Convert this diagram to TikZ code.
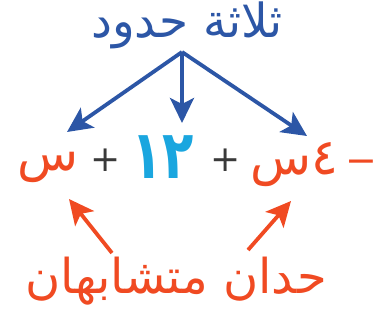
\documentclass[tikz,border=0pt]{standalone}
\usepackage{fontspec}
\usepackage{graphicx}
\TeXXeTstate=1
\newfontfamily\arabicfont[Script=Arabic]{DejaVu Sans}
\usetikzlibrary{arrows.meta}
\definecolor{tblue}{HTML}{2C56A6}
\definecolor{tcyan}{HTML}{1AA6DF}
\definecolor{tred}{HTML}{F04A22}
\definecolor{tgray}{HTML}{3A3A3A}
\tikzset{
  lbl/.style={inner sep=0pt},
  barrow/.style={draw=tblue, line width=3.8pt, -{Stealth[length=25pt,width=24pt,inset=6pt]}},
  rarrow/.style={draw=tred, line width=3.8pt, -{Stealth[length=25pt,width=24pt,inset=6pt]}},
}
\begin{document}
\begin{tikzpicture}[x=1pt,y=-1pt]
\useasboundingbox (0,0) rectangle (379,323);
\node[lbl, text=tblue, font=\arabicfont\fontsize{47}{50}\selectfont] (top) at (187,25) {\beginR ثلاثة حدود\endR};
\node[lbl, text=tred, font=\arabicfont\fontsize{50}{54}\selectfont] (t1) at (48,167) {\beginR س\endR};
\node[lbl, text=tgray, font=\arabicfont\fontsize{36}{40}\selectfont] (p1) at (106,160) {+};
\node[lbl, text=tcyan, font=\arabicfont\bfseries\fontsize{54}{58}\selectfont] (n12) at (163,157) {\scalebox{0.95}[1.25]{\beginR ١٢\endR}};
\node[lbl, text=tgray, font=\arabicfont\fontsize{36}{40}\selectfont] (p2) at (226,160) {+};
\node[lbl, text=tred, font=\arabicfont\fontsize{50}{54}\selectfont] (t3) at (294,165) {\beginR ٤س\endR};
\node[lbl, text=tred, font=\arabicfont\fontsize{38}{42}\selectfont] (mn) at (361,167) {−};
\node[lbl, text=tred, font=\arabicfont\fontsize{48}{52}\selectfont] (bot) at (176,281) {\beginR حدان متشابهان\endR};
\coordinate (o) at (182,52);
\coordinate (a1) at (67,132);
\coordinate (a2) at (182,123);
\coordinate (a3) at (307,136);
\coordinate (b1) at (112,253);
\coordinate (b2) at (248,250);
\coordinate (c1) at (69,199);
\coordinate (c2) at (291,201);
\draw[barrow] (o) -- (a1);
\draw[barrow] (o) -- (a2);
\draw[barrow] (o) -- (a3);
\draw[rarrow] (b1) -- (c1);
\draw[rarrow] (b2) -- (c2);
\end{tikzpicture}
\end{document}
